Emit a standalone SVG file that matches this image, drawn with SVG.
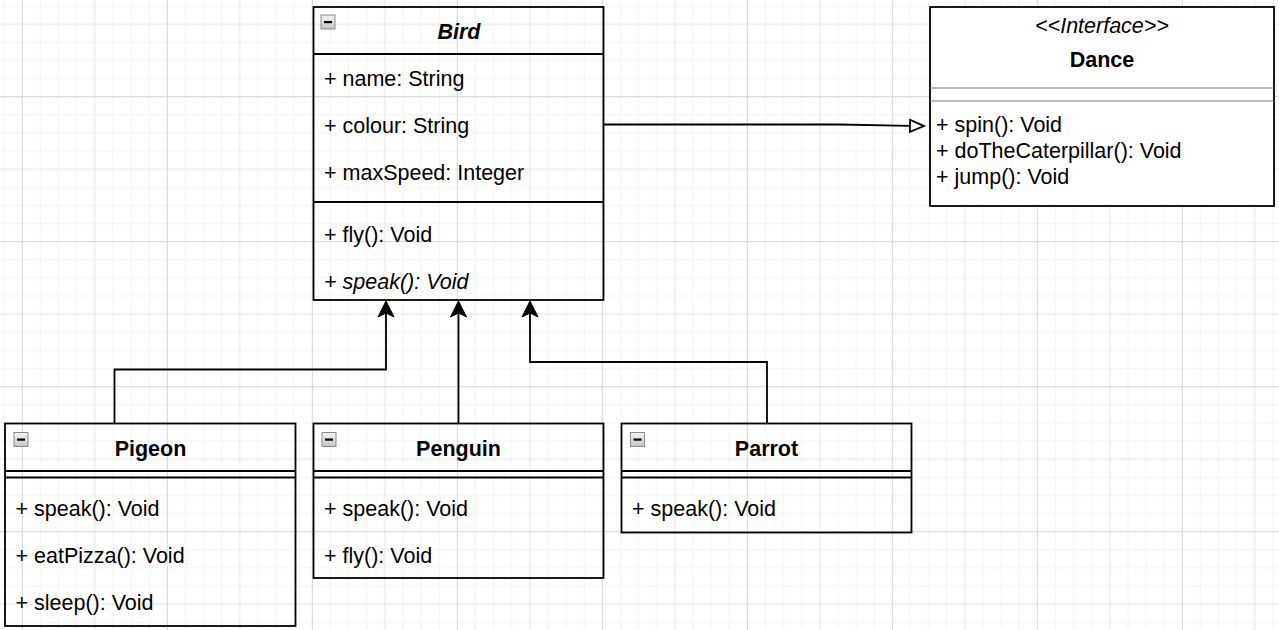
<svg xmlns="http://www.w3.org/2000/svg" xmlns:xlink="http://www.w3.org/1999/xlink" width="1279" height="630" viewBox="0 0 1279 630">
<style>
.box{fill:none;stroke:#000;stroke-width:1.8}
.wbox{fill:#fff;stroke:#000;stroke-width:1.8}
.sep{stroke:#000;stroke-width:1.8}
.gsep{stroke:#808080;stroke-width:1.2}
.t{font-family:"Liberation Sans",Arial,Helvetica,sans-serif;font-size:21.5px;fill:#000}
.title{font-weight:bold;text-anchor:middle}
.it{font-style:italic}
.mid{text-anchor:middle}
.edge{fill:none;stroke:#000;stroke-width:1.8}
</style>
<defs>
<pattern id="grid" patternUnits="userSpaceOnUse" x="21.8" y="96.2" width="145" height="145">
<g fill="#f3f3f3">
<rect x="18.125" y="0" width="1" height="145"/><rect x="36.25" y="0" width="1" height="145"/><rect x="54.375" y="0" width="1" height="145"/>
<rect x="90.625" y="0" width="1" height="145"/><rect x="108.75" y="0" width="1" height="145"/><rect x="126.875" y="0" width="1" height="145"/>
<rect y="18.125" x="0" height="1" width="145"/><rect y="36.25" x="0" height="1" width="145"/><rect y="54.375" x="0" height="1" width="145"/>
<rect y="90.625" x="0" height="1" width="145"/><rect y="108.75" x="0" height="1" width="145"/><rect y="126.875" x="0" height="1" width="145"/>
</g>
<g fill="#e6e6e6">
<rect x="72.5" y="0" width="1" height="145"/><rect y="72.5" x="0" height="1" width="145"/>
</g>
<g fill="#d5d5d5">
<rect x="0" y="0" width="1" height="145"/><rect y="0" x="0" height="1" width="145"/>
</g>
</pattern>
<linearGradient id="mg" x1="0" y1="0" x2="0" y2="1">
<stop offset="0" stop-color="#f4f4f4"/><stop offset="1" stop-color="#c4c4c4"/>
</linearGradient>
<g id="minus">
<rect x="0.5" y="0.5" width="14" height="14" fill="url(#mg)" stroke="#8c8c8c" stroke-width="1"/>
<rect x="3.5" y="6.5" width="8" height="2.2" fill="#000"/>
</g>
<marker id="classic" markerUnits="userSpaceOnUse" orient="auto" refX="0" refY="0" markerWidth="20" markerHeight="20" overflow="visible">
<path d="M-4,-8 L12,0 L-4,8 L0,0 Z" fill="#000" stroke="#000" stroke-width="1"/>
</marker>
<marker id="hollow" markerUnits="userSpaceOnUse" orient="auto" refX="0" refY="0" markerWidth="20" markerHeight="20" overflow="visible">
<path d="M0,-6 L14,0 L0,6 Z" fill="#fff" stroke="#000" stroke-width="1.8"/>
</marker>
</defs>
<rect width="1279" height="630" fill="#fff"/>
<rect width="1279" height="630" fill="url(#grid)"/>

<g id="connectors">
<path class="edge" d="M114.5,423 V369.5 H386 V313" marker-end="url(#classic)"/>
<path class="edge" d="M458.5,423 V313" marker-end="url(#classic)"/>
<path class="edge" d="M767,423 V362 H530 V313" marker-end="url(#classic)"/>
<path class="edge" d="M604,124.5 L840,124.5 L910,125.8" marker-end="url(#hollow)"/>
</g>

<g id="bird">
<rect class="box" x="313.5" y="7" width="290" height="293"/>
<line class="sep" x1="313.5" y1="54" x2="603.5" y2="54"/>
<line class="sep" x1="313.5" y1="202" x2="603.5" y2="202"/>
<use xlink:href="#minus" x="320.5" y="14.5"/>
<text class="t title it" x="459" y="39">Bird</text>
<text class="t" x="324" y="86">+ name: String</text>
<text class="t" x="324" y="133">+ colour: String</text>
<text class="t" x="324" y="180">+ maxSpeed: Integer</text>
<text class="t" x="324" y="242">+ fly(): Void</text>
<text class="t it" x="324" y="289">+ speak(): Void</text>
</g>

<g id="dance">
<rect class="wbox" x="930" y="7" width="344" height="199"/>
<line class="gsep" x1="930" y1="88" x2="1274" y2="88"/>
<line class="gsep" x1="930" y1="101" x2="1274" y2="101"/>
<text class="t it mid" x="1102" y="33">&lt;&lt;Interface&gt;&gt;</text>
<text class="t title" x="1102" y="67">Dance</text>
<text class="t" x="936" y="132">+ spin(): Void</text>
<text class="t" x="936" y="158">+ doTheCaterpillar(): Void</text>
<text class="t" x="936" y="184">+ jump(): Void</text>
</g>

<g id="pigeon">
<rect class="box" x="5" y="423.5" width="290.5" height="202.5"/>
<line class="sep" x1="5" y1="471" x2="295.5" y2="471"/>
<line class="sep" x1="5" y1="477.5" x2="295.5" y2="477.5"/>
<use xlink:href="#minus" x="13.5" y="432"/>
<text class="t title" x="150.5" y="456">Pigeon</text>
<text class="t" x="15.5" y="516">+ speak(): Void</text>
<text class="t" x="15.5" y="563">+ eatPizza(): Void</text>
<text class="t" x="15.5" y="610">+ sleep(): Void</text>
</g>

<g id="penguin">
<rect class="box" x="313.5" y="423.5" width="290" height="154.5"/>
<line class="sep" x1="313.5" y1="471" x2="603.5" y2="471"/>
<line class="sep" x1="313.5" y1="477.5" x2="603.5" y2="477.5"/>
<use xlink:href="#minus" x="321.5" y="432"/>
<text class="t title" x="458.5" y="456">Penguin</text>
<text class="t" x="324" y="516">+ speak(): Void</text>
<text class="t" x="324" y="563">+ fly(): Void</text>
</g>

<g id="parrot">
<rect class="box" x="621.5" y="423.5" width="290" height="109"/>
<line class="sep" x1="621.5" y1="471" x2="911.5" y2="471"/>
<line class="sep" x1="621.5" y1="477.5" x2="911.5" y2="477.5"/>
<use xlink:href="#minus" x="630" y="432"/>
<text class="t title" x="766.5" y="456">Parrot</text>
<text class="t" x="632" y="516">+ speak(): Void</text>
</g>
</svg>
